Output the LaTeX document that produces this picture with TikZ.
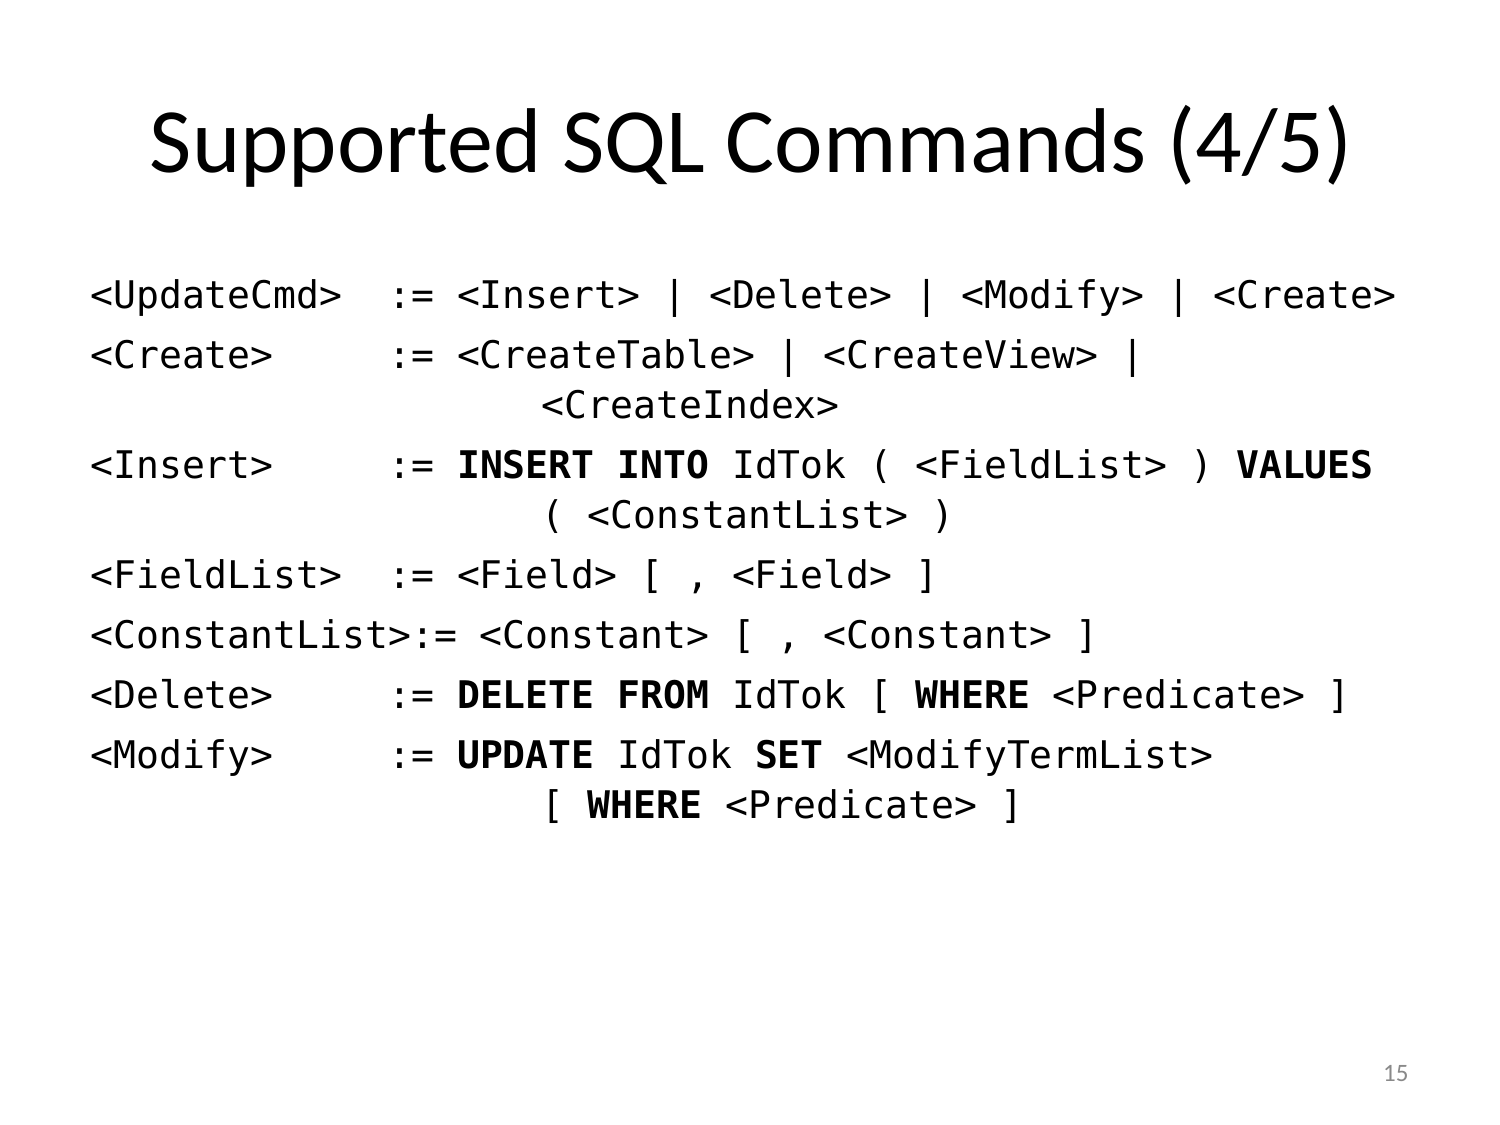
\documentclass[tikz,border=0pt]{standalone}
\usepackage{fontspec}
\setmainfont{Carlito}
\setmonofont{DejaVu Sans Mono}
\definecolor{pagegray}{RGB}{137,137,137}
\newlength\mycharw
\begin{document}
\settowidth{\mycharw}{\fontsize{10}{12}\selectfont\ttfamily M}
\pgfmathsetmacro{\codesize}{10*11/(\mycharw/1pt)}
\begin{tikzpicture}[x=1pt,y=1pt]
\useasboundingbox[fill=white] (0,0) rectangle (720,-540);
\tikzset{
  code/.style={anchor=base west, inner sep=0pt, font=\fontsize{\codesize}{20}\selectfont\ttfamily},
  titletext/.style={anchor=base, inner sep=0pt, font=\fontsize{44.15}{50}\selectfont},
  pagenum/.style={anchor=base east, inner sep=0pt, text=pagegray, font=\fontsize{12}{14}\selectfont}
}
\def\cw{11}
\def\xa{43.2}
\pgfmathsetmacro{\xb}{\xa+13*\cw}
\pgfmathsetmacro{\xc}{\xa+20*\cw-3.3}
\node[titletext] (title) at (360.6,-83) {Supported SQL Commands (4/5)};
% line 1
\node[code] (n1) at (\xa,-148.3) {<UpdateCmd>};
\node[code] (b1) at (\xb,-148.3) {:= <Insert> | <Delete> | <Modify> | <Create>};
% line 2
\node[code] (n2) at (\xa,-177.1) {<Create>};
\node[code] (b2) at (\xb,-177.1) {:= <CreateTable> | <CreateView> |};
\node[code] (c2) at (\xc,-201.1) {<CreateIndex>};
% line 3
\node[code] (n3) at (\xa,-229.9) {<Insert>};
\node[code] (b3) at (\xb,-229.9) {:= \textbf{INSERT INTO} IdTok ( <FieldList> ) \textbf{VALUES}};
\node[code] (c3) at (\xc,-253.9) {( <ConstantList> )};
% line 4
\node[code] (n4) at (\xa,-282.7) {<FieldList>};
\node[code] (b4) at (\xb,-282.7) {:= <Field> [ , <Field> ]};
% line 5
\node[code] (n5) at (\xa,-311.5) {<ConstantList>:= <Constant> [ , <Constant> ]};
% line 6
\node[code] (n6) at (\xa,-340.3) {<Delete>};
\node[code] (b6) at (\xb,-340.3) {:= \textbf{DELETE FROM} IdTok [ \textbf{WHERE} <Predicate> ]};
% line 7
\node[code] (n7) at (\xa,-369.1) {<Modify>};
\node[code] (b7) at (\xb,-369.1) {:= \textbf{UPDATE} IdTok \textbf{SET} <ModifyTermList>};
\node[code] (c7) at (\xc,-393.1) {[ \textbf{WHERE} <Predicate> ]};
% page number
\node[pagenum] (pg) at (676.3,-518.9) {15};
\end{tikzpicture}
\end{document}
